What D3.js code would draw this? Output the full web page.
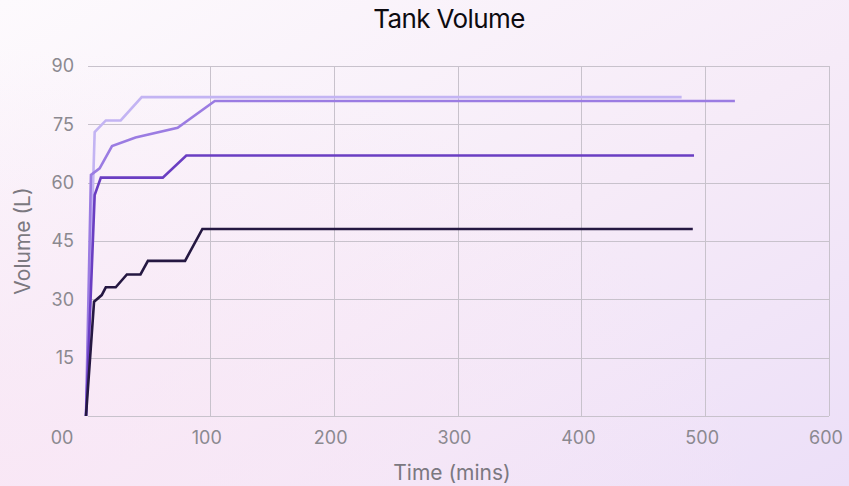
<!DOCTYPE html>
<html>
<head>
<meta charset="utf-8">
<script src="https://cdn.jsdelivr.net/npm/d3@7"></script>
<style>
  html, body { margin: 0; padding: 0; }
  body { width: 849px; height: 486px; overflow: hidden; }
  text { font-family: Inter, "Open Sans", sans-serif; }
</style>
</head>
<body>
<svg id="chart"></svg>
<script>
// tick values on each axis
var xTicks = [0, 100, 200, 300, 400, 500, 600];
var xTickLabels = ["00", "100", "200", "300", "400", "500", "600"];
var yTicks = [15, 30, 45, 60, 75, 90];

// series: [minutes, litres]
var tank1 = [[0, 0], [7, 73], [16, 76], [28, 76], [45, 82], [481, 82]];
var tank2 = [[0, 0], [4, 62], [11, 63.7], [21, 69.4], [40, 71.6], [74, 74.1], [104, 81], [524, 81]];
var tank3 = [[0, 0], [7, 56.8], [12, 61.3], [62, 61.3], [81, 67], [491, 67]];
var tank4 = [[0, 0], [6.5, 29.4], [12.7, 31.1], [16, 33.1], [24, 33.1], [33, 36.4], [44, 36.4], [50, 39.9], [80, 39.9], [94, 48.1], [490, 48.1]];
var colors = ["#c3b4f3", "#9b7ce2", "#6a3ec2", "#251842"];

var width = 849, height = 486;
// plot box
var plotLeft = 86, plotRight = 829, plotTop = 66, plotBottom = 416;

var svg = d3.select("#chart")
    .attr("width", width)
    .attr("height", height);

var defs = svg.append("defs");
var bg = defs.append("linearGradient").attr("id", "bg")
    .attr("x1", 0).attr("y1", 0).attr("x2", 1).attr("y2", 1);
bg.append("stop").attr("offset", "0%").attr("stop-color", "#fdfafd");
bg.append("stop").attr("offset", "55%").attr("stop-color", "#f6ebf8");
bg.append("stop").attr("offset", "100%").attr("stop-color", "#ecdff8");
var pink = defs.append("radialGradient").attr("id", "pink")
    .attr("cx", 0).attr("cy", 1).attr("r", 0.9);
pink.append("stop").attr("offset", "0%").attr("stop-color", "#f9e6f5").attr("stop-opacity", 0.8);
pink.append("stop").attr("offset", "100%").attr("stop-color", "#f9e6f5").attr("stop-opacity", 0);

svg.append("rect").attr("width", width).attr("height", height).attr("fill", "url(#bg)");
svg.append("rect").attr("width", width).attr("height", height).attr("fill", "url(#pink)");

var x = d3.scaleLinear().domain([0, 600]).range([plotLeft, plotRight]);
var y = d3.scaleLinear().domain([0, 90]).range([plotBottom, plotTop]);

// grid
var grid = svg.append("g").attr("stroke", "#c8c2cc").attr("stroke-width", 1);
grid.selectAll("line.v")
    .data(xTicks.slice(1))
    .join("line")
    .attr("x1", d => Math.round(x(d)) + 0.5)
    .attr("x2", d => Math.round(x(d)) + 0.5)
    .attr("y1", plotTop)
    .attr("y2", plotBottom);
grid.selectAll("line.h")
    .data([0].concat(yTicks))
    .join("line")
    .attr("x1", plotLeft + 2)
    .attr("x2", plotRight)
    .attr("y1", d => Math.round(y(d)) + 0.5)
    .attr("y2", d => Math.round(y(d)) + 0.5);

// x tick labels
svg.append("g")
    .selectAll("text")
    .data(xTicks)
    .join("text")
    .attr("x", (d, i) => i == 0 ? x(d) - 24 : x(d) - 3)
    .attr("y", 444)
    .attr("text-anchor", "middle")
    .attr("fill", "#8b8990")
    .style("font-size", "18px")
    .text((d, i) => xTickLabels[i]);

// y tick labels
svg.append("g")
    .selectAll("text")
    .data(yTicks)
    .join("text")
    .attr("x", 74)
    .attr("y", d => y(d))
    .attr("dy", "0.35em")
    .attr("text-anchor", "end")
    .attr("fill", "#8b8990")
    .style("font-size", "18px")
    .text(d => d);

// lines
var line = d3.line()
    .x(d => x(d[0]))
    .y(d => y(d[1]));

svg.append("g")
    .attr("fill", "none")
    .attr("stroke-width", 2.6)
    .selectAll("path")
    .data([tank1, tank2, tank3, tank4])
    .join("path")
    .attr("stroke", (d, i) => colors[i])
    .attr("d", line);

// titles
svg.append("text")
    .attr("x", 449)
    .attr("y", 28)
    .attr("text-anchor", "middle")
    .attr("fill", "#0d0b10")
    .style("font-size", "26px")
    .style("letter-spacing", "-0.6px")
    .text("Tank Volume");

svg.append("text")
    .attr("x", 452)
    .attr("y", 480)
    .attr("text-anchor", "middle")
    .attr("fill", "#7b7880")
    .style("font-size", "21px")
    .text("Time (mins)");

svg.append("text")
    .attr("transform", "translate(30,241) rotate(-90)")
    .attr("text-anchor", "middle")
    .attr("fill", "#7b7880")
    .style("font-size", "21px")
    .text("Volume (L)");
</script>
</body>
</html>
